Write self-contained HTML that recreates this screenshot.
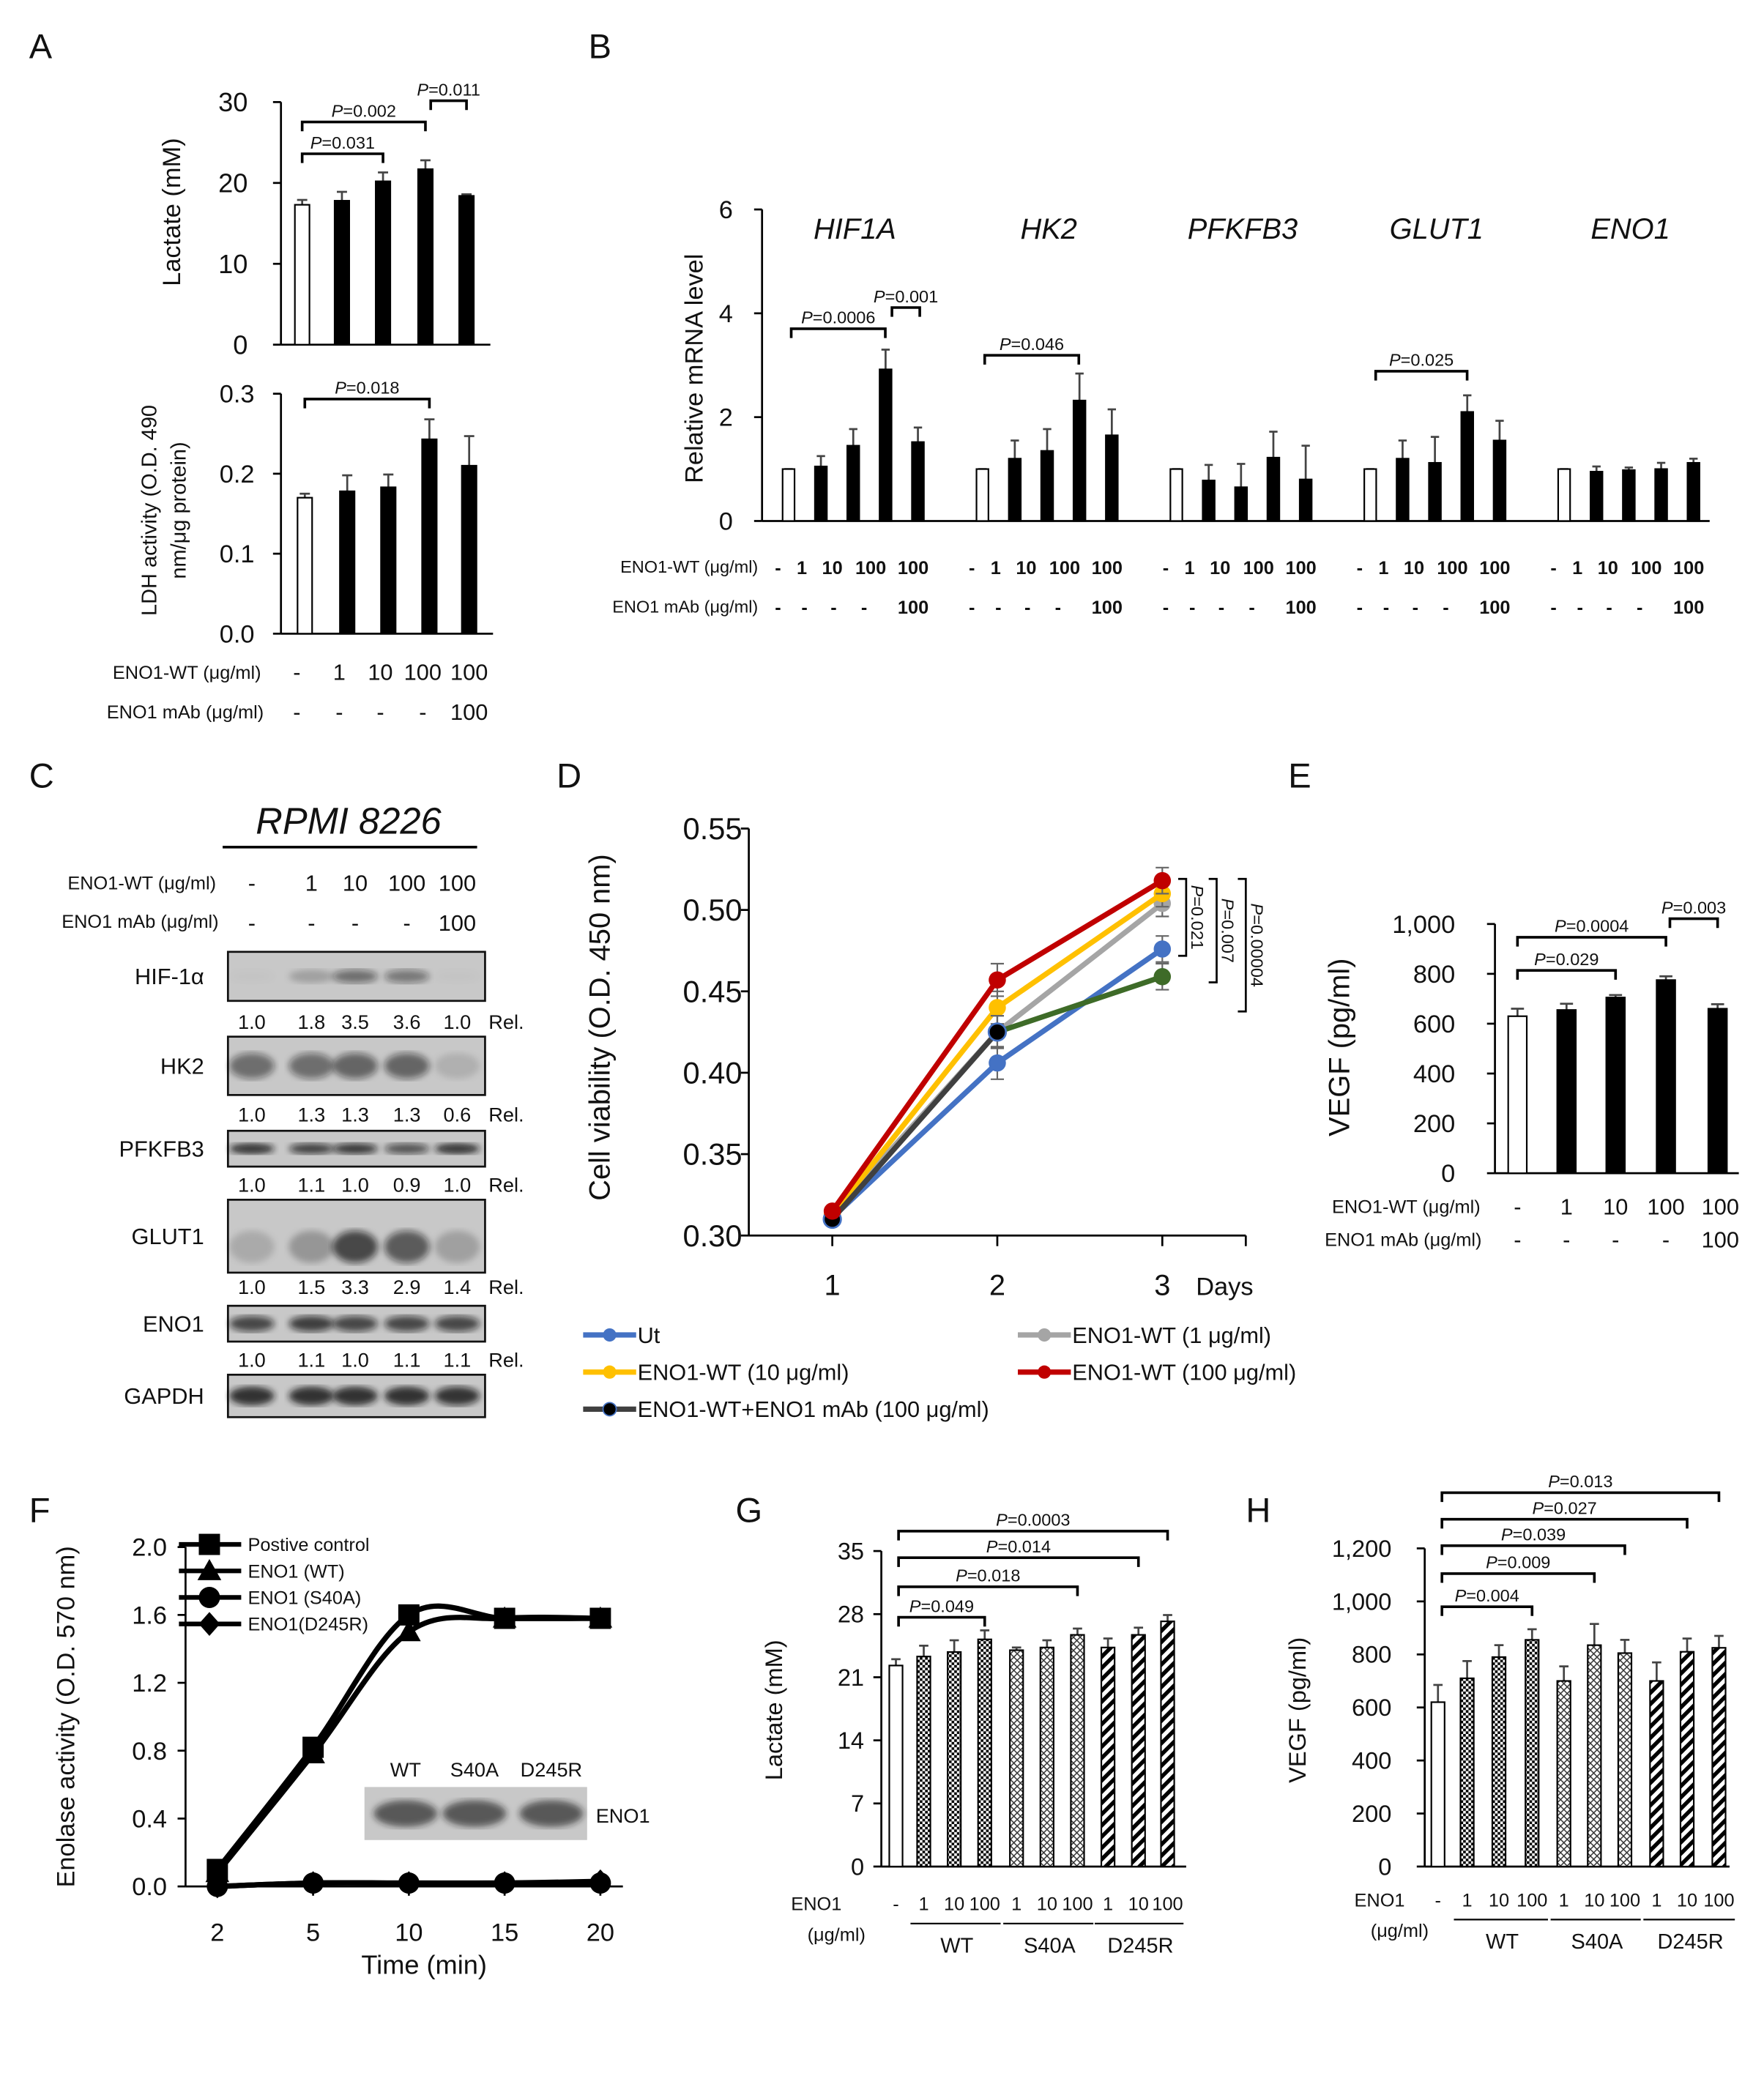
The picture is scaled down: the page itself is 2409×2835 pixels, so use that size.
<!DOCTYPE html>
<html><head><meta charset="utf-8">
<style>
html,body{margin:0;padding:0;background:#fff;}
svg{display:block;}
text{font-family:"Liberation Sans",sans-serif;fill:#111;}
</style></head>
<body>
<svg id="fig" xmlns="http://www.w3.org/2000/svg" width="2409" height="2835" viewBox="0 0 1331 1566" preserveAspectRatio="none">
<defs>
<pattern id="pDots" width="4" height="4" patternUnits="userSpaceOnUse"><rect width="4" height="4" fill="#fff"/><rect width="2" height="2" fill="#000"/><rect x="2" y="2" width="2" height="2" fill="#000"/></pattern>
<pattern id="pCross" width="5" height="5" patternUnits="userSpaceOnUse"><rect width="5" height="5" fill="#fff"/><path d="M0 0L5 5M5 0L0 5" stroke="#333" stroke-width="0.8"/></pattern>
<pattern id="pDiag" width="6" height="6" patternUnits="userSpaceOnUse" patternTransform="rotate(45)"><rect width="6" height="6" fill="#fff"/><rect width="3" height="6" fill="#000"/></pattern>
<filter id="blur"><feGaussianBlur stdDeviation="2.5"/></filter>
</defs>
</svg>
<script>
// ---------- DATA ----------
const groupsA = ["-", "1", "10", "100", "100"];
const mabA = ["-", "-", "-", "-", "100"];
const lactateA = [17.3, 17.8, 20.2, 21.7, 18.4];
const lactateAErr = [0.6, 1.1, 1.1, 1.1, 0.2];
const ldhA = [0.170, 0.178, 0.183, 0.243, 0.210];
const ldhAErr = [0.005, 0.02, 0.016, 0.025, 0.037];
const genesB = ["HIF1A", "HK2", "PFKFB3", "GLUT1", "ENO1"];
const mrnaB = [[1, 1.05, 1.45, 2.92, 1.52],[1, 1.2, 1.35, 2.32, 1.65],[1, 0.78, 0.65, 1.22, 0.8],[1, 1.2, 1.12, 2.1, 1.55],[1, 0.95, 0.98, 1.0, 1.12]];
const mrnaBErr = [[0, 0.2, 0.32, 0.38, 0.28],[0, 0.35, 0.42, 0.52, 0.5],[0, 0.3, 0.45, 0.5, 0.65],[0, 0.35, 0.5, 0.32, 0.38],[0, 0.1, 0.05, 0.12, 0.08]];
const blotNames = ["HIF-1α", "HK2", "PFKFB3", "GLUT1", "ENO1", "GAPDH"];
const blotRel = [["1.0","1.8","3.5","3.6","1.0"],["1.0","1.3","1.3","1.3","0.6"],["1.0","1.1","1.0","0.9","1.0"],["1.0","1.5","3.3","2.9","1.4"],["1.0","1.1","1.0","1.1","1.1"],null];
const daysD = [1, 2, 3];
const seriesDNames = ["Ut", "ENO1-WT (1 μg/ml)", "ENO1-WT (10 μg/ml)", "ENO1-WT (100 μg/ml)", "ENO1-WT+ENO1 mAb (100 μg/ml)"];
const viabUt = [0.311, 0.406, 0.476];
const viabWT1 = [0.313, 0.425, 0.504];
const viabWT10 = [0.313, 0.440, 0.510];
const viabWT100 = [0.315, 0.457, 0.518];
const viabMab = [0.310, 0.425, 0.459];
const viabErr = [0.002, 0.01, 0.008];
const vegfE = [630, 655, 705, 775, 660];
const vegfEErr = [30, 25, 10, 15, 18];
const timeF = [2, 5, 10, 15, 20];
const enoPos = [0.10, 0.82, 1.60, 1.58, 1.58];
const enoWT = [0.08, 0.78, 1.50, 1.58, 1.58];
const enoS40A = [0.0, 0.02, 0.02, 0.02, 0.02];
const enoD245R = [0.0, 0.02, 0.02, 0.02, 0.03];
const doseGH = ["-", "1", "10", "100", "1", "10", "100", "1", "10", "100"];
const lactateG = [22.3, 23.3, 23.8, 25.2, 24.0, 24.3, 25.7, 24.3, 25.7, 27.2];
const lactateGErr = [0.7, 1.2, 1.3, 1.0, 0.3, 0.8, 0.7, 1.0, 0.8, 0.7];
const vegfH = [620, 710, 790, 855, 700, 835, 805, 700, 810, 825];
const vegfHErr = [65, 65, 45, 40, 55, 80, 50, 70, 50, 45];

// ---------- HELPERS ----------
const NS = "http://www.w3.org/2000/svg";
const svg = document.getElementById("fig");
function mk(tag, attrs, name, parent) {
  const el = document.createElementNS(NS, tag);
  for (const k in attrs) el.setAttribute(k, attrs[k]);
  
  
  (parent || svg).appendChild(el);
  return el;
}
function txt(x, y, s, size, anchor, name, extra) {
  const a = Object.assign({x: x, y: y, "font-size": size, "text-anchor": anchor || "middle"}, extra || {});
  const t = mk("text", a, name);
  t.textContent = s;
  return t;
}
function line(x1, y1, x2, y2, w, name, col) {
  return mk("line", {x1: x1, y1: y1, x2: x2, y2: y2, stroke: col || "#000", "stroke-width": w || 1.5}, name);
}
function scale(d0, d1, r0, r1) { return v => r0 + (v - d0) * (r1 - r0) / (d1 - d0); }
function bracket(xa, xb, y, label) {
  mk("path", {d: `M${xa} ${y+7}V${y}H${xb}V${y+7}`, fill: "none", stroke: "#000", "stroke-width": 2}, "significance-bracket");
  const t = txt((xa + xb) / 2, y - 4, "", 13, "middle", "p-value-label");
  const i = document.createElementNS(NS, "tspan"); i.setAttribute("font-style", "italic"); i.textContent = "P";
  t.appendChild(i); t.appendChild(document.createTextNode("=" + label));
}
function yAxis(x, yTop, yBot, xEnd, ys, ticks, labels, size, lx, name) {
  line(x, yTop, x, yBot, 1.5, name + "-y-axis");
  line(x, yBot, xEnd, yBot, 1.5, name + "-x-axis");
  ticks.forEach((v, i) => {
    line(x - 6, ys(v), x, ys(v), 1.5, name + "-y-tick");
    txt(lx, ys(v) + size * 0.35, labels[i], size, "end", name + "-y-tick-label");
  });
}
function bars(centers, vals, errs, ys, w, fills, name) {
  vals.forEach((v, i) => {
    const x = centers[i];
    line(x, ys(v), x, ys(v + errs[i]), 1.5, name + "-error-bar", "#444");
    line(x - w * 0.35, ys(v + errs[i]), x + w * 0.35, ys(v + errs[i]), 1.5, name + "-error-cap", "#444");
    mk("rect", {x: x - w / 2, y: ys(v), width: w, height: ys(0) - ys(v), fill: fills[i], stroke: "#000", "stroke-width": 1.2}, name + "-bar");
  });
}
function panelLetter(x, y, s) { txt(x, y, s, 26, "start", "panel-label-" + s.toLowerCase()); }
function vlabel(x, y, s, size, name) { txt(0, 0, s, size, "middle", name, {transform: `translate(${x},${y}) rotate(-90)`}); }

// ---------- PANEL A ----------
panelLetter(22, 44, "A"); panelLetter(444, 44, "B"); panelLetter(22, 594, "C");
panelLetter(420, 594, "D"); panelLetter(972, 594, "E"); panelLetter(22, 1148, "F");
panelLetter(555, 1148, "G"); panelLetter(940, 1148, "H");
const cA = [228, 258, 289, 321, 352];
const fillsA = ["#fff", "#000", "#000", "#000", "#000"];
const ysA1 = scale(0, 30, 260, 77);
yAxis(212, 77, 260, 370, ysA1, [0, 10, 20, 30], ["0", "10", "20", "30"], 20, 187, "lactate-a");
bars(cA, lactateA, lactateAErr, ysA1, 11, fillsA, "lactate-a");
vlabel(136, 160, "Lactate (mM)", 19, "lactate-a-y-title");
bracket(228, 289, 116, "0.031"); bracket(228, 321, 92, "0.002"); bracket(325, 352, 76, "0.011");
const ysA2 = scale(0, 0.3, 478, 297);
yAxis(212, 297, 478, 372, ysA2, [0, 0.1, 0.2, 0.3], ["0.0", "0.1", "0.2", "0.3"], 19, 192, "ldh-a");
bars([230, 262, 293, 324, 354], ldhA, ldhAErr, ysA2, 11, fillsA, "ldh-a");
vlabel(118, 385, "LDH activity (O.D. 490", 16, "ldh-a-y-title");
vlabel(140, 385, "nm/μg protein)", 16, "ldh-a-y-title-2");
bracket(230, 324, 301, "0.018");
txt(197, 512, "ENO1-WT (μg/ml)", 14, "end", "eno1-wt-row-label");
txt(199, 542, "ENO1 mAb  (μg/ml)", 14, "end", "eno1-mab-row-label");
groupsA.forEach((s, i) => txt([224, 256, 287, 319, 354][i], 513, s, 17, "middle", "eno1-wt-dose"));
mabA.forEach((s, i) => txt([224, 256, 287, 319, 354][i], 543, s, 17, "middle", "eno1-mab-dose"));

// ---------- PANEL B ----------
const ysB = scale(0, 6, 393, 158);
yAxis(575, 158, 393, 1290, ysB, [0, 2, 4, 6], ["0", "2", "4", "6"], 19, 553, "mrna-b");
vlabel(530, 278, "Relative mRNA level", 19, "mrna-b-y-title");
const labOffB = [-8, 10, 33, 62, 94];
const mabOffB = [-8, 12, 34, 57, 94];
genesB.forEach((g, gi) => {
  const base = 595 + 146.3 * gi;
  const cs = [0, 1, 2, 3, 4].map(j => base + 24.4 * j);
  bars(cs, mrnaB[gi], mrnaBErr[gi], ysB, 9, fillsA, "mrna-" + g.toLowerCase());
  txt(base + 50, 180, g, 22, "middle", "gene-label", {"font-style": "italic"});
  groupsA.forEach((s, j) => txt(base + labOffB[j], 433, s, 14, "middle", "eno1-wt-dose-b", {"font-weight": "bold"}));
  mabA.forEach((s, j) => txt(base + mabOffB[j], 463, s, 14, "middle", "eno1-mab-dose-b", {"font-weight": "bold"}));
});
txt(572, 432, "ENO1-WT (μg/ml)", 13, "end", "eno1-wt-row-label-b");
txt(572, 462, "ENO1 mAb (μg/ml)", 13, "end", "eno1-mab-row-label-b");
bracket(597, 668, 248, "0.0006"); bracket(673, 694, 232, "0.001");
bracket(743, 814, 268, "0.046"); bracket(1038, 1107, 280, "0.025");

// ---------- PANEL C ----------
txt(263, 629, "RPMI 8226", 28, "middle", "cell-line-title", {"font-style": "italic"});
line(168, 639, 360, 639, 2, "cell-line-underline");
const lanesC = [190, 235, 268, 307, 345];
txt(163, 671, "ENO1-WT (μg/ml)", 14, "end", "eno1-wt-row-label-c");
txt(165, 700, "ENO1 mAb  (μg/ml)", 14, "end", "eno1-mab-row-label-c");
groupsA.forEach((s, i) => txt(lanesC[i], 672, s, 17, "middle", "eno1-wt-dose-c"));
mabA.forEach((s, i) => txt(lanesC[i], 702, s, 17, "middle", "eno1-mab-dose-c"));
const blotY = [[718, 755], [782, 826], [853, 880], [905, 960], [985, 1012], [1037, 1069]];
const relY = [776, 846, 899, 976, 1031];
const bandDark = [[0.02, 0.2, 0.5, 0.45, 0.02],[0.5,0.5,0.55,0.55,0.12],[0.85,0.75,0.8,0.65,0.85],[0.15,0.25,0.7,0.6,0.2],[0.7,0.75,0.7,0.7,0.7],[0.85,0.85,0.85,0.85,0.8]];
blotNames.forEach((n, r) => {
  const [y0, y1] = blotY[r];
  mk("rect", {x: 172, y: y0, width: 194, height: y1 - y0, fill: "#c8c8c8", stroke: "#111", "stroke-width": 1.5}, "western-blot-" + n.toLowerCase());
  lanesC.forEach((x, i) => {
    const d = bandDark[r][i];
    const hh = r === 2 ? 4 : (r === 0 ? 5 : (y1 - y0) * 0.22);
    mk("ellipse", {cx: x, cy: (y0 + y1) / 2 + (r === 3 ? 8 : 0), rx: 17, ry: hh, fill: `rgba(20,20,20,${d})`, filter: "url(#blur)"}, "blot-band");
  });
  txt(154, (y0 + y1) / 2 + 6, n, 17, "end", "blot-protein-label");
  if (blotRel[r]) {
    blotRel[r].forEach((s, i) => txt(lanesC[i], relY[r], s, 15, "middle", "relative-density"));
    txt(382, relY[r], "Rel.", 15, "middle", "relative-density-label");
  }
});

// ---------- PANEL D ----------
const xsD = scale(1, 3, 628, 877);
const ysD = scale(0.30, 0.55, 932, 625);
yAxis(565, 625, 932, 940, ysD, [0.30, 0.35, 0.40, 0.45, 0.50, 0.55], ["0.30", "0.35", "0.40", "0.45", "0.50", "0.55"], 23, 560, "viability-d");
daysD.forEach(d => { line(xsD(d), 932, xsD(d), 940, 1.5, "viability-d-x-tick"); txt(xsD(d), 977, String(d), 22, "middle", "viability-d-x-tick-label"); });
line(940, 932, 940, 940, 1.5, "viability-d-x-tick");
txt(924, 977, "Days", 19, "middle", "viability-d-x-title");
vlabel(460, 775, "Cell viability (O.D. 450 nm)", 22, "viability-d-y-title");
const seriesD = [[viabUt, "#4472C4"], [viabWT1, "#A5A5A5"], [viabWT10, "#FFC000"], [viabMab, "#404040"], [viabWT100, "#C00000"]];
seriesD.forEach(([vals, col], si) => {
  vals.forEach((v, i) => {
    if (i > 0) {
      line(xsD(daysD[i]), ysD(v - viabErr[i]), xsD(daysD[i]), ysD(v + viabErr[i]), 1.2, "viability-error-bar", "#666");
      line(xsD(daysD[i]) - 5, ysD(v + viabErr[i]), xsD(daysD[i]) + 5, ysD(v + viabErr[i]), 1.2, "viability-error-cap", "#666");
      line(xsD(daysD[i]) - 5, ysD(v - viabErr[i]), xsD(daysD[i]) + 5, ysD(v - viabErr[i]), 1.2, "viability-error-cap", "#666");
    }
  });
  for (let i = 1; i < vals.length; i++) {
    const c = (si === 3 && i === 2) ? "#3E6B28" : col;
    line(xsD(daysD[i - 1]), ysD(vals[i - 1]), xsD(daysD[i]), ysD(vals[i]), 4, "viability-line", c);
  }
  vals.forEach((v, i) => {
    const c = (si === 3 && i === 2) ? "#3E6B28" : (si === 3 ? "#000" : col);
    mk("circle", {cx: xsD(daysD[i]), cy: ysD(v), r: 6.5, fill: c, stroke: si === 3 && i < 2 ? "#4472C4" : "none", "stroke-width": 1.5}, "viability-point");
  });
});
[[895, 663, 721, "0.021"], [918, 663, 741, "0.007"], [940, 663, 763, "0.00004"]].forEach(([x, a, b, p]) => {
  mk("path", {d: `M${x - 6} ${a}H${x}V${b}H${x - 6}`, fill: "none", stroke: "#000", "stroke-width": 1.5}, "significance-bracket-d");
  const t = txt(0, 0, "", 13, "middle", "p-value-label-d", {transform: `translate(${x + 4},${(a + b) / 2}) rotate(90)`});
  const i = document.createElementNS(NS, "tspan"); i.setAttribute("font-style", "italic"); i.textContent = "P";
  t.appendChild(i); t.appendChild(document.createTextNode("=" + p));
});
const legD = [[440, 1007, "#4472C4", 0], [768, 1007, "#A5A5A5", 1], [440, 1035, "#FFC000", 2], [768, 1035, "#C00000", 3], [440, 1063, "#404040", 4]];
legD.forEach(([x, y, c, k]) => {
  line(x, y, x + 40, y, 4, "legend-line", c);
  mk("circle", {cx: x + 20, cy: y, r: 5, fill: k === 4 ? "#000" : c, stroke: k === 4 ? "#4472C4" : "none"}, "legend-marker");
  txt(x + 41, y + 6, seriesDNames[k], 17, "start", "legend-entry");
});

// ---------- PANEL E ----------
const ysE = scale(0, 1000, 885, 697);
yAxis(1128, 697, 885, 1312, ysE, [0, 200, 400, 600, 800, 1000], ["0", "200", "400", "600", "800", "1,000"], 19, 1098, "vegf-e");
bars([1145, 1182, 1219, 1257, 1296], vegfE, vegfEErr, ysE, 14, fillsA, "vegf-e");
vlabel(1018, 790, "VEGF (pg/ml)", 22, "vegf-e-y-title");
txt(1117, 915, "ENO1-WT (μg/ml)", 14, "end", "eno1-wt-row-label-e");
txt(1118, 940, "ENO1 mAb  (μg/ml)", 14, "end", "eno1-mab-row-label-e");
groupsA.forEach((s, i) => txt([1145, 1182, 1219, 1257, 1298][i], 916, s, 17, "middle", "eno1-wt-dose-e"));
mabA.forEach((s, i) => txt([1145, 1182, 1219, 1257, 1298][i], 941, s, 17, "middle", "eno1-mab-dose-e"));
bracket(1145, 1219, 732, "0.029"); bracket(1145, 1257, 707, "0.0004"); bracket(1260, 1296, 693, "0.003");

// ---------- PANEL F (categorical x axis) ----------
const xsFi = scale(0, 4, 164, 453);
const xF = i => xsFi(i);
const ysF = scale(0, 2.0, 1423, 1167);
yAxis(140, 1167, 1423, 470, ysF, [0, 0.4, 0.8, 1.2, 1.6, 2.0], ["0.0", "0.4", "0.8", "1.2", "1.6", "2.0"], 19, 126, "enolase-f");
timeF.forEach((t, i) => { line(xF(i), 1423, xF(i), 1430, 1.5, "enolase-f-x-tick"); txt(xF(i), 1464, String(t), 19, "middle", "enolase-f-x-tick-label"); });
txt(320, 1489, "Time (min)", 20, "middle", "enolase-f-x-title");
vlabel(56, 1295, "Enolase activity (O.D. 570 nm)", 19, "enolase-f-y-title");
function smooth(vals) {
  const p = vals.map((v, i) => [xF(i), ysF(v)]);
  let d = `M${p[0][0]} ${p[0][1]}`;
  for (let i = 0; i < p.length - 1; i++) {
    const p0 = p[i - 1] || p[i], p1 = p[i], p2 = p[i + 1], p3 = p[i + 2] || p2;
    d += `C${p1[0] + (p2[0] - p0[0]) / 6} ${p1[1] + (p2[1] - p0[1]) / 6} ${p2[0] - (p3[0] - p1[0]) / 6} ${p2[1] - (p3[1] - p1[1]) / 6} ${p2[0]} ${p2[1]}`;
  }
  return d;
}
const seriesF = [[enoPos, "square"], [enoWT, "triangle"], [enoS40A, "circle"], [enoD245R, "diamond"]];
function marker(x, y, kind, name) {
  if (kind === "square") mk("rect", {x: x - 8, y: y - 8, width: 16, height: 16, fill: "#000"}, name);
  else if (kind === "triangle") mk("polygon", {points: `${x},${y - 9} ${x + 9},${y + 7} ${x - 9},${y + 7}`, fill: "#000"}, name);
  else if (kind === "circle") mk("circle", {cx: x, cy: y, r: 8, fill: "#000"}, name);
  else mk("polygon", {points: `${x},${y - 9} ${x + 8},${y} ${x},${y + 9} ${x - 8},${y}`, fill: "#000"}, name);
}
seriesF.forEach(([vals, kind]) => {
  mk("path", {d: smooth(vals), fill: "none", stroke: "#000", "stroke-width": 4}, "enolase-curve-" + kind);
  vals.forEach((v, i) => marker(xF(i), ysF(v), kind, "enolase-point-" + kind));
});
["Postive control", "ENO1 (WT)", "ENO1 (S40A)", "ENO1(D245R)"].forEach((s, i) => {
  const y = 1165 + 20 * i;
  line(135, y, 182, y, 3.5, "legend-line-f");
  marker(158, y, seriesF[i][1], "legend-marker-f");
  txt(187, y + 5, s, 14, "start", "legend-entry-f");
});
mk("rect", {x: 275, y: 1348, width: 168, height: 40, fill: "#c8c8c8"}, "enolase-inset-blot");
[306, 358, 416].forEach(x => mk("ellipse", {cx: x, cy: 1368, rx: 24, ry: 10, fill: "rgba(30,30,30,0.65)", filter: "url(#blur)"}, "inset-blot-band"));
[["WT", 306], ["S40A", 358], ["D245R", 416]].forEach(([s, x]) => txt(x, 1340, s, 15, "middle", "inset-lane-label"));
txt(470, 1375, "ENO1", 15, "middle", "inset-protein-label");

// ---------- PANEL G / H shared ----------
const fillsGH = ["#fff", "url(#pDots)", "url(#pDots)", "url(#pDots)", "url(#pCross)", "url(#pCross)", "url(#pCross)", "url(#pDiag)", "url(#pDiag)", "url(#pDiag)"];
function ghLabels(cs, lx, ly, groupX, name) {
  txt(lx, ly, "ENO1", 14, "end", name + "-row-label");
  txt(lx + 18, ly + 23, "(μg/ml)", 14, "end", name + "-unit-label");
  doseGH.forEach((s, i) => txt(cs[i], ly, s, 14, "middle", name + "-dose"));
  [["WT", 1], ["S40A", 4], ["D245R", 7]].forEach(([g, k], j) => {
    line(cs[k] - 10, ly + 10, cs[k + 2] + 12, ly + 10, 1.2, name + "-group-underline");
    txt((cs[k] + cs[k + 2]) / 2 + 2, ly + 32, g, 16, "middle", name + "-group-label");
  });
}
// G
const cG = [676, 697, 720, 743, 767, 790, 813, 836, 859, 881];
const ysG = scale(0, 35, 1408, 1170);
yAxis(665, 1170, 1408, 895, ysG, [0, 7, 14, 21, 28, 35], ["0", "7", "14", "21", "28", "35"], 18, 652, "lactate-g");
bars(cG, lactateG, lactateGErr, ysG, 10, fillsGH, "lactate-g");
vlabel(590, 1290, "Lactate (mM)", 18, "lactate-g-y-title");
ghLabels(cG, 635, 1441, null, "lactate-g");
bracket(678, 743, 1220, "0.049"); bracket(678, 813, 1197, "0.018"); bracket(678, 859, 1175, "0.014"); bracket(678, 881, 1155, "0.0003");
// H
const cH = [1085, 1107, 1131, 1156, 1180, 1203, 1226, 1250, 1273, 1297];
const ysH = scale(0, 1200, 1408, 1168);
yAxis(1075, 1168, 1408, 1305, ysH, [0, 200, 400, 600, 800, 1000, 1200], ["0", "200", "400", "600", "800", "1,000", "1,200"], 18, 1050, "vegf-h");
bars(cH, vegfH, vegfHErr, ysH, 10, fillsGH, "vegf-h");
vlabel(985, 1290, "VEGF (pg/ml)", 18, "vegf-h-y-title");
ghLabels(cH, 1060, 1438, null, "vegf-h");
bracket(1088, 1156, 1212, "0.004"); bracket(1088, 1203, 1187, "0.009"); bracket(1088, 1226, 1166, "0.039"); bracket(1088, 1273, 1146, "0.027"); bracket(1088, 1297, 1126, "0.013");
</script>
</body></html>
